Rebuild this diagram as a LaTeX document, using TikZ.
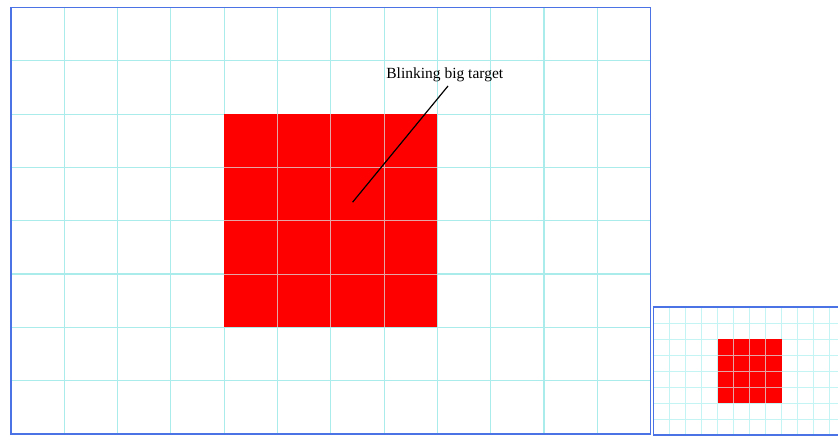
\documentclass[tikz,border=0pt]{standalone}
\usepackage{fontspec}
\setmainfont{Liberation Serif}
\definecolor{framecol}{RGB}{75,115,230}
\definecolor{gridcol}{RGB}{170,236,236}
\definecolor{gridfaint}{RGB}{196,244,244}
\definecolor{targetred}{RGB}{255,0,0}
\definecolor{ongrid}{RGB}{230,165,165}
\begin{document}
\begin{tikzpicture}[x=1pt,y=-1pt,
  frame/.style={draw=framecol,line width=1.4pt},
  gridline/.style={draw=gridcol,line width=1.1pt},
  faintline/.style={draw=gridfaint,line width=0.8pt},
  redline/.style={draw=ongrid,line width=1pt},
  redfaint/.style={draw=ongrid,line width=0.6pt},
  lbl/.style={font=\fontsize{15.5}{18}\selectfont,inner sep=1pt},
  leader/.style={draw=black,line width=1.2pt}]
\useasboundingbox (0,0) rectangle (838,436);
\fill[white] (0,0) rectangle (838,436);
% big view
\foreach \i in {1,...,11} \draw[gridline] (11+53.3*\i,7.5) -- (11+53.3*\i,434);
\foreach \j in {1,...,7} \draw[gridline] (11,7.5+53.3*\j) -- (650.6,7.5+53.3*\j);
\fill[targetred] (224.2,114.1) rectangle (437.4,327.3);
\foreach \i in {5,6,7} \draw[redline] (11+53.3*\i,114.1) -- (11+53.3*\i,327.3);
\foreach \j in {3,4,5} \draw[redline] (224.2,7.5+53.3*\j) -- (437.4,7.5+53.3*\j);
\draw[frame] (11,7.5) rectangle (650.6,434);
% label and leader
\node[lbl] (label) at (444.8,74.5) {Blinking big target};
\coordinate (labfoot) at (448,86);
\coordinate (tip) at (352.6,202.2);
\draw[leader] (labfoot) -- (tip);
% small view
\begin{scope}
\clip (651,300) rectangle (838,436);
\foreach \i in {1,...,11} \draw[faintline] (653.5+16*\i,307) -- (653.5+16*\i,435);
\foreach \j in {1,...,7} \draw[faintline] (653.5,307+16*\j) -- (845.5,307+16*\j);
\fill[targetred] (717.5,339) rectangle (781.5,403);
\foreach \i in {5,6,7} \draw[redfaint] (653.5+16*\i,339) -- (653.5+16*\i,403);
\foreach \j in {3,4,5} \draw[redfaint] (717.5,307+16*\j) -- (781.5,307+16*\j);
\draw[frame] (653.5,307) rectangle (845.5,435);
\end{scope}
\end{tikzpicture}
\end{document}
